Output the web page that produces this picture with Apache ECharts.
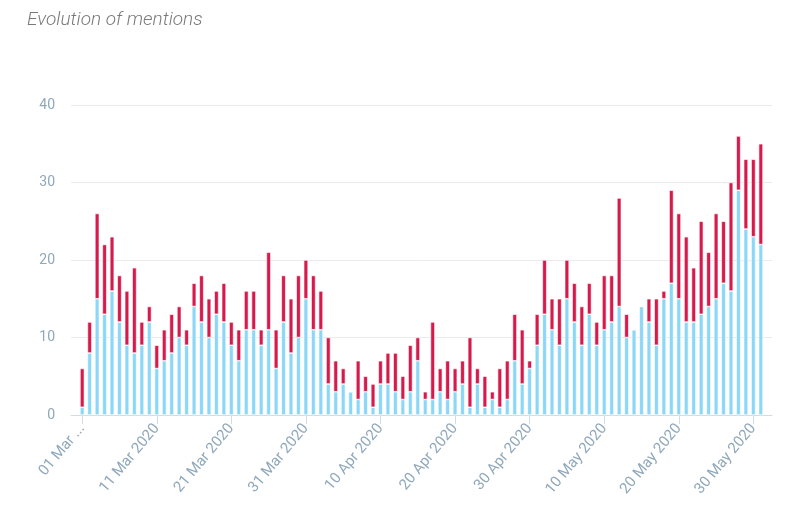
<!DOCTYPE html>
<html>
<head>
<meta charset="utf-8">
<script src="https://cdn.jsdelivr.net/npm/echarts@6/dist/echarts.min.js"></script>
<style>
html,body{margin:0;padding:0;background:#fff;}
#chart{width:800px;height:506px;}
</style>
</head>
<body>
<div id="chart"></div>
<script>
// Days: 01 Mar 2020 .. 31 May 2020
var startDate = '2020-03-01';
var dayCount = 92;
var tickEvery = 10;
var tickLabels = ['01 Mar ...', '11 Mar 2020', '21 Mar 2020', '31 Mar 2020', '10 Apr 2020',
                  '20 Apr 2020', '30 Apr 2020', '10 May 2020', '20 May 2020', '30 May 2020'];
var yTicks = [0, 10, 20, 30, 40];

var blueValues = [1,8,15,13,16,12,9,8,9,12, 6,7,8,10,9,14,12,10,13,12, 9,7,11,11,9,11,6,12,8,10,
                  15,11,11,4,3,4,3,2,3,1, 4,4,3,2,3,7,2,2,3,2, 3,4,1,4,1,2,1,2,7,4,
                  6,9,13,11,9,15,12,9,13,9, 11,12,14,10,11,14,12,9,15,17, 15,12,12,13,14,15,17,16,29,24,
                  23,22];
var redValues  = [5,4,11,9,7,6,7,11,3,2, 3,4,5,4,2,3,6,5,3,5, 3,4,5,5,2,10,5,6,7,8,
                  5,7,5,6,4,2,0,5,2,3, 3,4,5,3,6,3,1,10,3,5, 3,3,9,2,4,1,5,5,6,7,
                  1,4,7,4,6,5,5,5,4,3, 7,6,14,3,0,0,3,6,1,12, 11,11,7,12,7,11,8,14,7,9,
                  10,13];

// build category list: one empty slot of padding at each end of the axis
var months = ['Jan','Feb','Mar','Apr','May','Jun','Jul','Aug','Sep','Oct','Nov','Dec'];
var days = [];
var d0 = new Date(startDate + 'T00:00:00Z');
for (var i = 0; i < dayCount; i++) {
  var d = new Date(d0.getTime() + i * 86400000);
  days.push(('0' + d.getUTCDate()).slice(-2) + ' ' + months[d.getUTCMonth()] + ' ' + d.getUTCFullYear());
}
var categories = [''].concat(days).concat(['']);
function pad(arr) { return [null].concat(arr).concat([null]); }
function isTick(idx) { var k = idx - 1; return k >= 0 && k < dayCount && k % tickEvery === 0; }

var chart = echarts.init(document.getElementById('chart'), null, {renderer: 'canvas'});
var labelColor = '#8fa8bb';
var option = {
  animation: false,
  title: {
    text: 'Evolution of mentions',
    left: 22, top: 6,
    textStyle: {fontFamily: 'Roboto', fontStyle: 'italic', fontWeight: 300, fontSize: 19, color: '#7a7a7a'}
  },
  grid: {left: 71, right: 28, top: 105, bottom: 91, containLabel: false},
  xAxis: {
    type: 'category',
    data: categories,
    boundaryGap: true,
    splitLine: {show: false},
    axisLine: {show: true, lineStyle: {color: '#d3dce6', width: 1}},
    axisTick: {show: true, alignWithLabel: true, interval: function (idx) { return isTick(idx); },
               length: 9, lineStyle: {color: '#d3dce6'}},
    axisLabel: {
      interval: function (idx) { return isTick(idx); },
      rotate: 50, margin: 11, hideOverlap: false,
      color: labelColor, fontFamily: 'Roboto', fontSize: 15,
      formatter: function (v, idx) { return tickLabels[(idx - 1) / tickEvery]; }
    }
  },
  yAxis: {
    type: 'value', min: yTicks[0], max: yTicks[yTicks.length - 1], interval: 10,
    axisLine: {show: false}, axisTick: {show: false},
    splitLine: {lineStyle: {color: '#ebebeb', width: 1}},
    axisLabel: {color: labelColor, fontFamily: 'Roboto', fontSize: 14, margin: 16}
  },
  series: [
    {
      type: 'bar', stack: 'm', barWidth: 4.4,
      itemStyle: {color: '#8bd7f8', borderColor: '#ffffff', borderWidth: 0.6},
      data: pad(blueValues)
    },
    {
      type: 'bar', stack: 'm', barWidth: 4.4,
      itemStyle: {color: '#d61b4c', borderColor: '#ffffff', borderWidth: 0.6},
      data: pad(redValues)
    }
  ]
};
chart.setOption(option);
</script>
</body>
</html>
